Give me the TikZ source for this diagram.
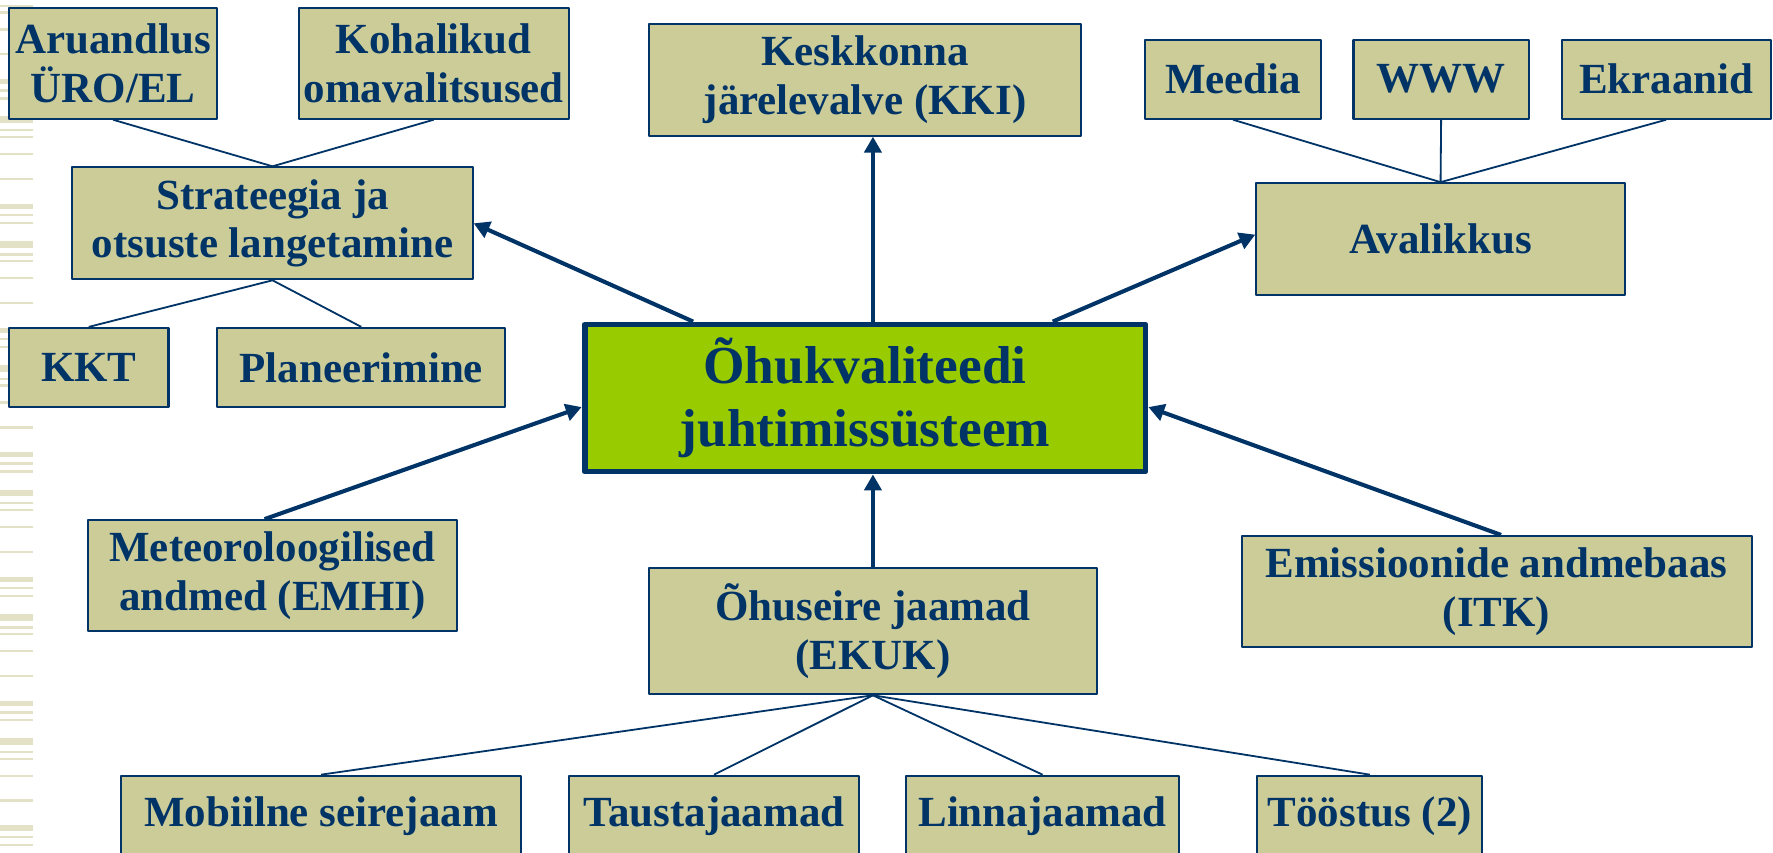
\documentclass[tikz,border=0pt]{standalone}
\usepackage{fontspec}
\setmainfont{Liberation Serif}
\usetikzlibrary{arrows.meta}
\definecolor{navy}{HTML}{003366}
\definecolor{tan}{HTML}{CCCC99}
\definecolor{lime}{HTML}{99CC00}
\definecolor{stripe}{HTML}{E3E1C6}
\tikzset{
	box/.style={draw=navy, fill=tan, line width=0.9pt, text=navy, align=center,
		inner sep=0pt, font=\fontsize{19}{21.5}\selectfont\bfseries},
	boxsize/.style 2 args={minimum width=#1*0.5pt, minimum height=#2*0.5pt},
	link/.style={draw=navy, line width=0.8pt},
	arr/.style={draw=navy, line width=1.8pt, ->},
}
\begin{document}
\begin{tikzpicture}[x=0.5pt, y=-0.5pt, line join=round,
	>={Triangle[length=7pt,width=7.5pt]}]
	\useasboundingbox (0,0) rectangle (1568,754);
	% slide stripes on the left
	\foreach \p in {-40,70,...,730}{
		\foreach \o/\h in {0/4.5,9/2,16/2,33/6,44/2,50/2,65/2,87/2}
		\fill[stripe] (0,\p+\o) rectangle (29,\p+\o+\h);
	}
	% top row
	\node[box, boxsize={184}{98}] (aru) at (100,56) {Aruandlus\\ÜRO/EL};
	\node[box, boxsize={239}{98}] (koh) at (383.5,56) {Kohalikud\\omavalitsused};
	\node[box, boxsize={382}{99}] (kki) at (765,70.5) {Keskkonna\\järelevalve (KKI)};
	\node[box, boxsize={155}{70}] (meedia) at (1090.5,70) {Meedia};
	\node[box, boxsize={155}{70}] (www) at (1274.5,70) {WWW};
	\node[box, boxsize={185}{70}] (ekr) at (1473.5,70) {Ekraanid};
	% second level
	\node[box, boxsize={354}{99}] (strat) at (241,197.5) {Strateegia ja\\otsuste langetamine};
	\node[box, boxsize={326}{99}] (aval) at (1274,211.5) {Avalikkus};
	\node[box, boxsize={141}{70}] (kkt) at (78.5,325) {KKT};
	\node[box, boxsize={255}{70}] (plan) at (319.5,325) {Planeerimine};
	% centre
	\node[box, boxsize={496}{130}, fill=lime, line width=2.6pt,
		font=\fontsize{23.6}{28}\selectfont\bfseries] (ohk) at (765,352)
		{Õhukvaliteedi\\juhtimissüsteem};
	% inputs
	\node[box, boxsize={326}{98}] (meteo) at (241,509) {Meteoroloogilised\\andmed (EMHI)};
	\node[box, boxsize={396}{112}] (seire) at (772,558) {Õhuseire jaamad\\(EKUK)};
	\node[box, boxsize={451}{98}] (emis) at (1323.5,523) {Emissioonide andmebaas\\(ITK)};
	% bottom row
	\node[box, boxsize={354}{72}] (mob) at (284,722) {Mobiilne seirejaam};
	\node[box, boxsize={257}{72}] (taust) at (631.5,722) {Taustajaamad};
	\node[box, boxsize={242}{72}] (linn) at (922,722) {Linnajaamad};
	\node[box, boxsize={199}{72}] (toos) at (1211.5,722) {Tööstus (2)};
	% thin links
	\draw[link] (aru.south) -- (strat.north) -- (koh.south);
	\draw[link] (kkt.north) -- (strat.south) -- (plan.north);
	\draw[link] (meedia.south) -- (aval.north) -- (ekr.south);
	\draw[link] (www.south) -- (aval.north);
	\foreach \b in {mob,taust,linn,toos}
	\draw[link] (seire.south) -- (\b.north);
	% arrows
	\draw[arr] ([xshift=-76pt]ohk.north) -- (strat.east);
	\draw[arr] ([xshift=3.5pt]ohk.north) -- ([xshift=3.5pt]ohk.north |- kki.south);
	\draw[arr] ([xshift=83pt]ohk.north) -- ([yshift=2pt]aval.west);
	\draw[arr] ([xshift=-3.5pt]meteo.north) -- ([yshift=-4pt]ohk.west);
	\draw[arr] ([xshift=2pt]emis.north) -- ([yshift=-4pt]ohk.east);
	\draw[arr] (seire.north) -- (seire.north |- ohk.south);
\end{tikzpicture}
\end{document}
